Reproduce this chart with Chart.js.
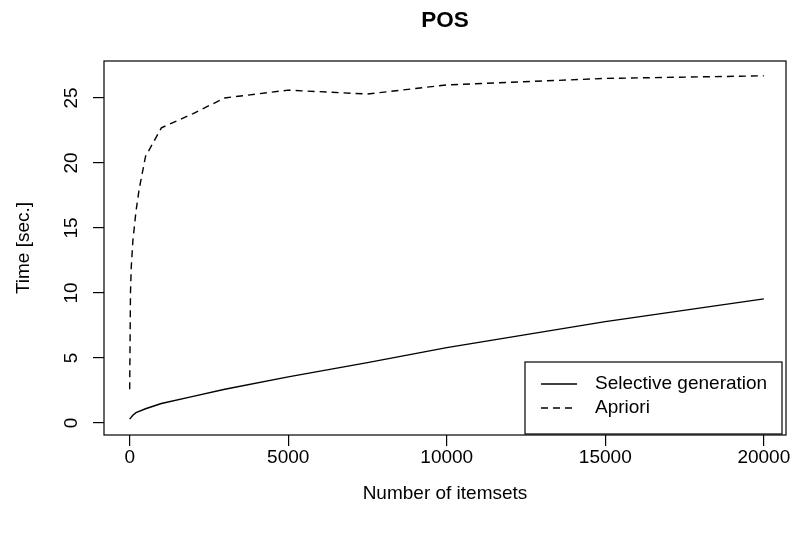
<!DOCTYPE html>
<html>
<head>
<meta charset="utf-8">
<script src="https://cdn.jsdelivr.net/npm/chart.js@4/dist/chart.umd.min.js"></script>
<style>
  html, body { margin: 0; padding: 0; background: #fff; }
  #wrap { width: 792px; height: 533px; position: relative; }
</style>
</head>
<body>
<div id="wrap"><canvas id="c" width="792" height="533"></canvas></div>
<script>
// ---- data ----
const chartTitle = "POS";
const xTitle = "Number of itemsets";
const yTitle = "Time [sec.]";
const seriesNames = ["Selective generation", "Apriori"];

const selX = [0, 100, 200, 500, 1000, 2000, 3000, 5000, 7500, 10000, 15000, 20000];
const selY = [0.3, 0.6, 0.8, 1.1, 1.5, 2.05, 2.6, 3.55, 4.65, 5.8, 7.8, 9.55];

const aprX = [0, 25, 50, 100, 200, 300, 500, 1000, 2000, 3000, 5000, 7500, 10000, 15000, 20000];
const aprY = [2.6, 10.0, 12.0, 14.0, 16.3, 18.0, 20.5, 22.7, 23.8, 25.0, 25.6, 25.3, 26.0, 26.5, 26.7];

const xTicks = [0, 5000, 10000, 15000, 20000];
const yTicks = [0, 5, 10, 15, 20, 25];

// ---- rendering ----
const FONT = '"Liberation Sans", Arial, Helvetica, sans-serif';
const FS = 19;

const toPts = (xs, ys) => xs.map((x, i) => ({ x: x, y: ys[i] }));

const decor = {
  id: 'decor',
  afterDraw(chart) {
    const ctx = chart.ctx;
    const a = chart.chartArea;
    ctx.save();
    // plot box
    ctx.strokeStyle = '#000';
    ctx.lineWidth = 1.2;
    ctx.strokeRect(a.left, a.top, a.right - a.left, a.bottom - a.top);
    // title
    ctx.fillStyle = '#000';
    ctx.textAlign = 'center';
    ctx.textBaseline = 'middle';
    ctx.font = 'bold 22.5px ' + FONT;
    ctx.fillText(chartTitle, (a.left + a.right) / 2, 21);
    // x title
    ctx.font = FS + 'px ' + FONT;
    ctx.fillText(xTitle, (a.left + a.right) / 2, 494);
    // y title
    ctx.save();
    ctx.translate(24, (a.top + a.bottom) / 2);
    ctx.rotate(-Math.PI / 2);
    ctx.fillText(yTitle, 0, 0);
    ctx.restore();
    // y tick labels (rotated, R style)
    const ys = chart.scales.y;
    ys.ticks.forEach(t => {
      const py = ys.getPixelForValue(t.value);
      ctx.save();
      ctx.translate(72, py);
      ctx.rotate(-Math.PI / 2);
      ctx.fillText(String(t.value), 0, 0);
      ctx.restore();
    });
    // legend
    const lx = 525, ly = 362, lw = 257, lh = 72;
    ctx.fillStyle = '#fff';
    ctx.fillRect(lx, ly, lw, lh);
    ctx.strokeStyle = '#000';
    ctx.lineWidth = 1.2;
    ctx.strokeRect(lx, ly, lw, lh);
    chart.data.datasets.forEach((ds, i) => {
      const yy = 384 + i * 24;
      ctx.beginPath();
      ctx.setLineDash(ds.borderDash || []);
      ctx.lineWidth = ds.borderWidth;
      ctx.strokeStyle = ds.borderColor;
      ctx.moveTo(541, yy);
      ctx.lineTo(577, yy);
      ctx.stroke();
      ctx.setLineDash([]);
      ctx.fillStyle = '#000';
      ctx.textAlign = 'left';
      ctx.textBaseline = 'middle';
      ctx.font = FS + 'px ' + FONT;
      ctx.fillText(ds.label, 595, yy);
    });
    ctx.restore();
  }
};

new Chart(document.getElementById('c'), {
  type: 'line',
  data: {
    datasets: [
      { label: seriesNames[0], data: toPts(selX, selY), borderColor: '#000', borderWidth: 1.4,
        pointRadius: 0, tension: 0, fill: false },
      { label: seriesNames[1], data: toPts(aprX, aprY), borderColor: '#000', borderWidth: 1.4,
        borderDash: [7, 5], pointRadius: 0, tension: 0, fill: false }
    ]
  },
  options: {
    responsive: false,
    devicePixelRatio: 1,
    animation: false,
    events: [],
    layout: { padding: { top: 61, right: 6, left: 0, bottom: 0 } },
    plugins: { legend: { display: false }, title: { display: false }, tooltip: { enabled: false } },
    scales: {
      x: {
        type: 'linear',
        min: -810, max: 20700,
        afterBuildTicks: s => { s.ticks = xTicks.map(v => ({ value: v })); },
        afterFit: s => { s.height = 98; },
        border: { display: false },
        grid: { display: true, drawOnChartArea: false, drawTicks: true, tickLength: 11, color: '#000', lineWidth: 1.2 },
        ticks: { color: '#000', font: { family: FONT, size: FS }, padding: 0, maxRotation: 0, autoSkip: false,
                 callback: v => String(v) }
      },
      y: {
        type: 'linear',
        min: -0.92, max: 27.84,
        afterBuildTicks: s => { s.ticks = yTicks.map(v => ({ value: v })); },
        afterFit: s => { s.width = 104; },
        border: { display: false },
        grid: { display: true, drawOnChartArea: false, drawTicks: true, tickLength: 11, color: '#000', lineWidth: 1.2 },
        ticks: { display: false }
      }
    }
  },
  plugins: [decor]
});
</script>
</body>
</html>
